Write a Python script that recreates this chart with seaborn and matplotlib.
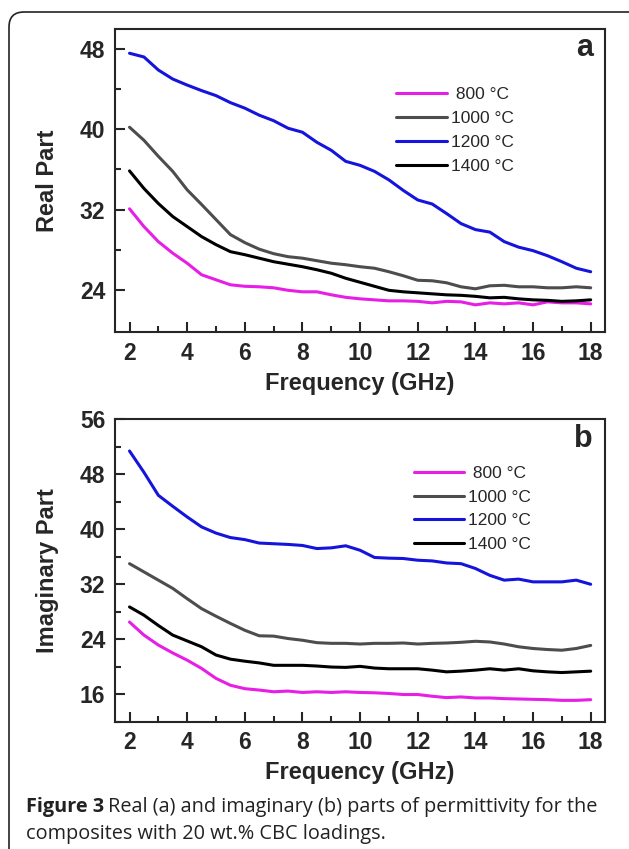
import numpy as np
import pandas as pd
import matplotlib
matplotlib.use("Agg")
import matplotlib.pyplot as plt
import seaborn as sns
from matplotlib.patches import FancyBboxPatch

# frequency grid (GHz)
freq = np.arange(2.0, 18.01, 0.5)

temps = ["800", "1000", "1200", "1400"]

real_800 = [32.07, 30.3, 28.8, 27.65, 26.65, 25.5, 25.0, 24.5, 24.35, 24.3, 24.2,
            23.95, 23.8, 23.8, 23.5, 23.25, 23.1, 23.0, 22.9, 22.9, 22.85, 22.7,
            22.85, 22.8, 22.5, 22.7, 22.6, 22.7, 22.5, 22.8, 22.7, 22.7, 22.6]
real_1000 = [40.2, 38.9, 37.3, 35.8, 33.96, 32.5, 31.0, 29.5, 28.7, 28.05, 27.6,
             27.3, 27.15, 26.9, 26.65, 26.5, 26.3, 26.15, 25.8, 25.4, 24.95, 24.9,
             24.7, 24.3, 24.1, 24.4, 24.45, 24.3, 24.3, 24.2, 24.2, 24.3, 24.2]
real_1200 = [47.57, 47.2, 45.9, 45.0, 44.4, 43.85, 43.35, 42.65, 42.1, 41.4, 40.85,
             40.1, 39.7, 38.7, 37.9, 36.8, 36.4, 35.8, 34.95, 33.9, 32.95, 32.55,
             31.6, 30.6, 30.0, 29.75, 28.8, 28.25, 27.9, 27.4, 26.8, 26.15, 25.8]
real_1400 = [35.85, 34.1, 32.6, 31.3, 30.3, 29.3, 28.5, 27.8, 27.5, 27.15, 26.8,
             26.55, 26.3, 26.0, 25.65, 25.15, 24.75, 24.35, 23.95, 23.8, 23.7, 23.6,
             23.5, 23.45, 23.35, 23.2, 23.25, 23.1, 23.0, 22.95, 22.85, 22.9, 23.0]

imag_800 = [26.5, 24.6, 23.15, 22.0, 20.95, 19.75, 18.3, 17.3, 16.8, 16.6, 16.35,
            16.45, 16.25, 16.35, 16.25, 16.35, 16.25, 16.2, 16.1, 15.95, 15.95, 15.7,
            15.5, 15.6, 15.45, 15.45, 15.35, 15.3, 15.25, 15.2, 15.1, 15.1, 15.2]
imag_1000 = [35.0, 33.8, 32.6, 31.4, 29.9, 28.45, 27.35, 26.3, 25.3, 24.5, 24.45,
             24.1, 23.85, 23.5, 23.4, 23.4, 23.3, 23.4, 23.4, 23.45, 23.3, 23.4,
             23.45, 23.55, 23.7, 23.6, 23.3, 22.9, 22.65, 22.5, 22.4, 22.65, 23.1]
imag_1200 = [51.4, 48.3, 44.95, 43.35, 41.8, 40.35, 39.45, 38.8, 38.5, 38.0, 37.9,
             37.8, 37.65, 37.2, 37.3, 37.6, 36.95, 35.9, 35.8, 35.75, 35.5, 35.4,
             35.1, 35.0, 34.3, 33.3, 32.6, 32.75, 32.35, 32.35, 32.35, 32.6, 32.0]
imag_1400 = [28.7, 27.5, 26.0, 24.6, 23.75, 22.9, 21.7, 21.1, 20.8, 20.55, 20.2,
             20.2, 20.2, 20.1, 19.95, 19.9, 20.05, 19.8, 19.7, 19.7, 19.7, 19.5,
             19.25, 19.35, 19.5, 19.7, 19.5, 19.7, 19.4, 19.25, 19.15, 19.25, 19.35]

legend_labels = [" 800 °C", "1000 °C", "1200 °C", "1400 °C"]
colors = ["#e61ee6", "#4d4d4d", "#1414dc", "#000000"]


def long_df(series):
    rows = []
    for t, vals in zip(temps, series):
        rows.append(pd.DataFrame({"freq": freq, "value": vals, "temp": t}))
    return pd.concat(rows, ignore_index=True)


sns.set_style("ticks")
plt.rcParams['font.family'] = ['Liberation Sans', 'DejaVu Sans']

fig = plt.figure(figsize=(6.29, 8.49), dpi=100)
ax_a = fig.add_axes([0.183, 0.609, 0.779, 0.357])
ax_b = fig.add_axes([0.183, 0.150, 0.779, 0.356])

panels = [
    (ax_a, [real_800, real_1000, real_1200, real_1400], "Real Part", (19.8, 50),
     np.arange(24, 49, 8), np.arange(28, 49, 8), "a", (0.56, 0.83)),
    (ax_b, [imag_800, imag_1000, imag_1200, imag_1400], "Imaginary Part", (12, 56),
     np.arange(16, 57, 8), np.arange(12, 55, 8), "b", (0.595, 0.87)),
]

for ax, series, ylabel, ylim, yticks, yminor, tag, leg_pos in panels:
    df = long_df(series)
    sns.lineplot(data=df, x="freq", y="value", hue="temp", palette=colors,
                 linewidth=2.2, ax=ax, legend=False)
    ax.set_xlim(1.5, 18.5)
    ax.set_ylim(*ylim)
    ax.set_xticks(np.arange(2, 19, 2))
    ax.set_xticks(np.arange(3, 18, 2), minor=True)
    ax.set_yticks(yticks)
    ax.set_yticks(yminor, minor=True)
    ax.tick_params(which="major", direction="in", length=7, width=1.5, pad=7,
                   labelsize=16.5)
    ax.tick_params(which="minor", direction="in", length=4, width=1.5)
    for lab in ax.get_xticklabels() + ax.get_yticklabels():
        lab.set_fontweight("bold")
    for s in ax.spines.values():
        s.set_linewidth(1.5)
    ax.set_xlabel("Frequency (GHz)", fontsize=17, fontweight="bold", labelpad=5)
    ax.set_ylabel(ylabel, fontsize=17, fontweight="bold", labelpad=15)
    ax.text(0.975, 0.985, tag, transform=ax.transAxes, ha="right", va="top",
            fontsize=22, fontweight="bold")
    handles = ax.get_lines()[:4]
    ax.legend(handles, legend_labels,
              loc="upper left", bbox_to_anchor=leg_pos, frameon=False,
              fontsize=12.5, handlelength=2.9, handletextpad=0.25,
              labelspacing=0.5, borderaxespad=0)

# rounded frame around the figure
frame = FancyBboxPatch((0.09, -0.5), 7.0, 8.49 - 0.12 + 0.5,
                       boxstyle="round,pad=0,rounding_size=0.15",
                       transform=fig.dpi_scale_trans, fill=False,
                       edgecolor="#222222", linewidth=1.2)
fig.patches.append(frame)

# caption
cap_font = ['Open Sans', 'DejaVu Sans']
t1 = fig.text(26 / 629, 1 - 807 / 849, "Figure 3", fontsize=14.3, fontweight="bold",
              family=cap_font, va="center", color="#222222")
fig.canvas.draw()
bb = t1.get_window_extent()
fig.text((bb.x1 + 4) / 629, 1 - 807 / 849,
         "Real (a) and imaginary (b) parts of permittivity for the",
         fontsize=14.3, family=cap_font, va="center", color="#222222")
fig.text(26 / 629, 1 - 834 / 849, "composites with 20 wt.% CBC loadings.",
         fontsize=14.3, family=cap_font, va="center", color="#222222")

fig.savefig("out.png", dpi=100)
